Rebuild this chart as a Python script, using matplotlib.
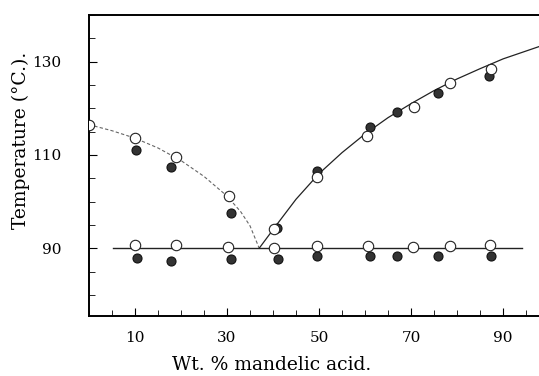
import matplotlib
matplotlib.use("Agg")
import matplotlib.pyplot as plt
from matplotlib.ticker import MultipleLocator, FixedLocator

# Liquidus, open circles
open_liq_x = [0, 10, 18.9, 30.4, 40.2, 49.5, 60.4, 70.7, 78.5, 87.4]
open_liq_t = [116.5, 113.7, 109.6, 101.2, 94.1, 105.3, 114.1, 120.3, 125.5, 128.5]
# Liquidus, filled circles
fill_liq_x = [0, 10.2, 17.8, 30.8, 40.8, 49.6, 61.1, 67.0, 75.9, 87.0]
fill_liq_t = [116.5, 111.1, 107.4, 97.5, 94.3, 106.6, 116.0, 119.2, 123.3, 127.0]
# Eutectic (solidus) points
open_eut_x = [10, 18.9, 30.2, 40.2, 49.6, 60.7, 70.5, 78.5, 87.2]
open_eut_t = [90.6, 90.6, 90.2, 90.0, 90.4, 90.4, 90.2, 90.4, 90.6]
fill_eut_x = [10.4, 17.8, 30.9, 41.1, 49.6, 61.1, 67.0, 75.9, 87.4]
fill_eut_t = [87.9, 87.2, 87.6, 87.6, 88.3, 88.3, 88.3, 88.3, 88.3]

# Drawn curves
left_curve_x = [0, 5, 10, 15, 20, 25, 30, 33, 35, 37]
left_curve_t = [116.5, 115.2, 113.6, 111.5, 108.8, 105.4, 101.2, 97.8, 94.8, 90.0]
right_curve_x = [37, 41, 45, 50, 55, 60, 65, 70, 75, 80, 85, 90, 98]
right_curve_t = [90.0, 95.3, 100.5, 106.0, 110.5, 114.5, 118.0, 121.0, 123.8, 126.3, 128.5, 130.6, 133.3]
eut_line_x = [5.2, 94]
eut_line_t = [90, 90]

x_ticks = [10, 30, 50, 70, 90]
y_ticks = [90, 110, 130]

plt.rcParams['font.family'] = ['DejaVu Serif']

fig = plt.figure(figsize=(5.39, 3.76), dpi=100)
ax = fig.add_axes([0.165, 0.16, 0.835, 0.80])

ax.plot(left_curve_x, left_curve_t, color='#666666', lw=0.8, ls=(0, (3, 2)))
ax.plot(right_curve_x, right_curve_t, color='#222222', lw=0.9)
ax.plot(eut_line_x, eut_line_t, color='#222222', lw=1.0)

ax.plot(fill_liq_x, fill_liq_t, 'o', ms=6.5, mfc='#333333', mec='#111111', mew=0.8, ls='none', zorder=3)
ax.plot(fill_eut_x, fill_eut_t, 'o', ms=6.5, mfc='#333333', mec='#111111', mew=0.8, ls='none', zorder=3)
ax.plot(open_liq_x, open_liq_t, 'o', ms=7.5, mfc='white', mec='#222222', mew=0.8, ls='none', zorder=4)
ax.plot(open_eut_x, open_eut_t, 'o', ms=7.5, mfc='white', mec='#222222', mew=0.8, ls='none', zorder=4)

ax.set_xlim(0, 97.8)
ax.set_ylim(75.5, 140)

ax.xaxis.set_major_locator(FixedLocator(x_ticks))
ax.xaxis.set_minor_locator(MultipleLocator(5))
ax.yaxis.set_major_locator(FixedLocator(y_ticks))
ax.yaxis.set_minor_locator(MultipleLocator(5))
ax.tick_params(axis='both', which='major', direction='in', length=6, width=0.8, labelsize=11)
ax.tick_params(axis='both', which='minor', direction='in', length=4, width=0.6)
ax.tick_params(axis='x', which='major', pad=11)
ax.tick_params(axis='y', which='major', pad=20)

for s in ['left', 'bottom', 'top']:
    ax.spines[s].set_linewidth(1.4)
ax.spines['right'].set_visible(False)

fig.text(272 / 539, 1 - 365 / 376, 'Wt. % mandelic acid.', fontsize=13.5,
         ha='center', va='center')
fig.text(21 / 539, 1 - 140 / 376, 'Temperature (°C.).', fontsize=13.5,
         ha='center', va='center', rotation=90)

fig.savefig('out.png', dpi=100)
